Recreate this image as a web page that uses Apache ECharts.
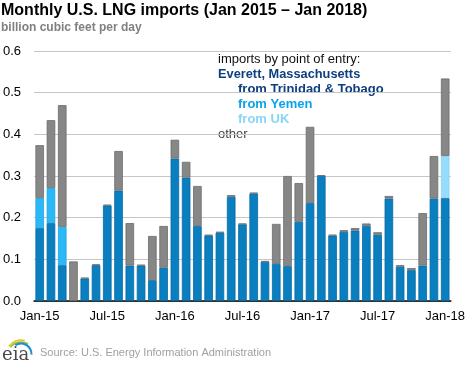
<!DOCTYPE html>
<html>
<head>
<meta charset="utf-8">
<script src="https://cdn.jsdelivr.net/npm/echarts@6/dist/echarts.min.js"></script>
<style>
html,body{margin:0;padding:0;background:#fff;}
#chart{width:468px;height:366px;}
</style>
</head>
<body>
<div id="chart"></div>
<script>
var categories = ['Jan-15','Feb-15','Mar-15','Apr-15','May-15','Jun-15','Jul-15','Aug-15','Sep-15','Oct-15','Nov-15','Dec-15',
  'Jan-16','Feb-16','Mar-16','Apr-16','May-16','Jun-16','Jul-16','Aug-16','Sep-16','Oct-16','Nov-16','Dec-16',
  'Jan-17','Feb-17','Mar-17','Apr-17','May-17','Jun-17','Jul-17','Aug-17','Sep-17','Oct-17','Nov-17','Dec-17','Jan-18'];
var trinidad = [0.175,0.187,0.086,0,0.054,0.086,0.229,0.265,0.085,0.085,0.050,0.080,
  0.342,0.296,0.180,0.157,0.164,0.250,0.184,0.258,0.094,0.089,0.084,0.190,
  0.235,0.300,0.157,0.166,0.169,0.180,0.159,0.246,0.082,0.074,0.085,0.246,0.247];
var yemen = [0.072,0.084,0.092,0,0,0,0,0,0,0,0,0,
  0,0,0,0,0,0,0,0,0,0,0,0,
  0,0,0,0,0,0,0,0,0,0,0,0,0];
var uk = [0,0,0,0,0,0,0,0,0,0,0,0,
  0,0,0,0,0,0,0,0,0,0,0,0,
  0,0,0,0,0,0,0,0,0,0,0,0,0.101];
var other = [0.127,0.163,0.292,0.095,0.002,0.002,0.002,0.095,0.102,0.002,0.106,0.100,
  0.045,0.038,0.096,0.002,0.002,0.004,0.002,0.002,0.002,0.096,0.216,0.093,
  0.183,0.002,0.002,0.004,0.006,0.006,0.006,0.006,0.004,0.005,0.126,0.102,0.186];
var yTicks = [0,0.1,0.2,0.3,0.4,0.5,0.6];

var FONT = "'Liberation Sans', Arial, sans-serif";
var chart = echarts.init(document.getElementById('chart'), null, {renderer:'canvas'});

function nz(arr){ return arr.map(function(v){ return v === 0 ? '-' : v; }); }

var option = {
  animation: false,
  title: {
    text: 'Monthly U.S. LNG imports (Jan 2015 \u2013 Jan 2018)',
    subtext: 'billion cubic feet per day',
    left: 1, top: 3, itemGap: 3, padding: 0,
    textStyle: {fontFamily: FONT, fontSize: 16, fontWeight: 'bold', color: '#000'},
    subtextStyle: {fontFamily: FONT, fontSize: 12, fontWeight: 'bold', color: '#808080'}
  },
  grid: {left: 31, right: 15, top: 51, bottom: 65, containLabel: false},
  xAxis: {
    type: 'category',
    data: categories,
    boundaryGap: true,
    axisLine: {lineStyle: {color: '#000', width: 1.5}},
    axisTick: {interval: 5, length: 5, lineStyle: {color: '#000', width: 1.2}},
    axisLabel: {interval: 5, margin: 9, fontFamily: FONT, fontSize: 13, color: '#000'},
    splitLine: {show: false}
  },
  yAxis: {
    type: 'value',
    min: yTicks[0], max: yTicks[yTicks.length-1], interval: 0.1,
    axisLine: {show: false},
    axisTick: {show: false},
    axisLabel: {margin: 13, fontFamily: FONT, fontSize: 13, color: '#000',
      formatter: function(v){ return v.toFixed(1); }},
    splitLine: {lineStyle: {color: '#c6c6c6', width: 1}}
  },
  series: [
    {name: 'from Trinidad & Tobago', type: 'bar', stack: 'imp', data: nz(trinidad), barCategoryGap: '24%',
      itemStyle: {color: '#0a7fc0', borderColor: '#0569a6', borderWidth: 0.8}},
    {name: 'from Yemen', type: 'bar', stack: 'imp', data: nz(yemen),
      itemStyle: {color: '#2bb8f7', borderColor: '#1aa4e4', borderWidth: 0.8}},
    {name: 'from UK', type: 'bar', stack: 'imp', data: nz(uk),
      itemStyle: {color: '#96dcfc', borderColor: '#86cfef', borderWidth: 0.8}},
    {name: 'other', type: 'bar', stack: 'imp', data: nz(other),
      itemStyle: {color: '#878787', borderColor: '#6c6c6c', borderWidth: 0.8}}
  ],
  graphic: [
    {type: 'text', left: 218, top: 53, style: {text: 'imports by point of entry:', font: '13px ' + FONT, fill: '#111'}},
    {type: 'text', left: 218, top: 68, style: {text: 'Everett, Massachusetts', font: 'bold 12.8px ' + FONT, fill: '#0e3f80'}},
    {type: 'text', left: 238, top: 83, style: {text: 'from Trinidad & Tobago', font: 'bold 13px ' + FONT, fill: '#0e3f80'}},
    {type: 'text', left: 238, top: 98, style: {text: 'from Yemen', font: 'bold 13px ' + FONT, fill: '#0aa2ea'}},
    {type: 'text', left: 238, top: 113, style: {text: 'from UK', font: 'bold 13px ' + FONT, fill: '#86d6fa'}},
    {type: 'text', left: 218, top: 128, style: {text: 'other', font: '13px ' + FONT, fill: '#444'}},
    {type: 'text', left: 40, top: 347, style: {text: 'Source: U.S. Energy Information Administration', font: '11px ' + FONT, fill: '#a0a0a0'}},
    {type: 'text', left: 2, top: 346, style: {text: 'eia', font: '18px "DejaVu Serif", "Liberation Serif", serif', fill: '#4a4a4a'}},
    {type: 'arc', shape: {cx: 21, cy: 355, r: 15, startAngle: Math.PI*1.2, endAngle: Math.PI*1.58}, style: {stroke: '#f2c200', lineWidth: 1.6, fill: null}},
    {type: 'arc', shape: {cx: 21, cy: 355, r: 13, startAngle: Math.PI*1.2, endAngle: Math.PI*1.68}, style: {stroke: '#7fbf3f', lineWidth: 1.6, fill: null}},
    {type: 'arc', shape: {cx: 21, cy: 354, r: 10.5, startAngle: Math.PI*1.32, endAngle: Math.PI*2.02}, style: {stroke: '#1b8fd0', lineWidth: 2, fill: null}}
  ]
};
chart.setOption(option);
</script>
</body>
</html>
